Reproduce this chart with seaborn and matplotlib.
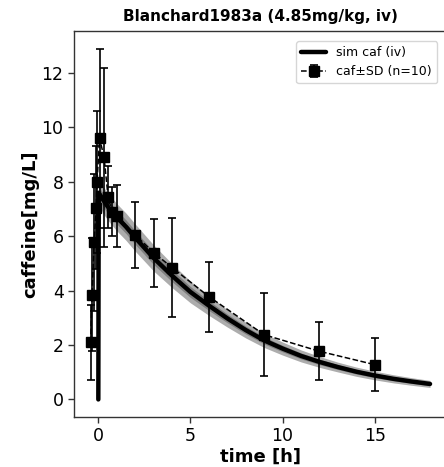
import numpy as np
import pandas as pd
import matplotlib
matplotlib.use("Agg")
import matplotlib.pyplot as plt
import seaborn as sns

# simulated caffeine plasma curve (mean and spread of the simulation)
sim_time = [0.0, 0.02, 0.25, 0.5, 1.0, 1.5, 2.0, 3.0, 4.0, 5.0, 6.0, 7.0, 8.0,
            9.0, 10.0, 11.0, 12.0, 13.0, 14.0, 15.0, 16.0, 17.0, 18.0]
sim_caf = [0.0, 7.6, 7.35, 7.1, 6.7, 6.35, 5.95, 5.2, 4.55, 3.95, 3.45, 2.98, 2.55,
           2.17, 1.87, 1.6, 1.38, 1.19, 1.02, 0.88, 0.76, 0.66, 0.57]
sim_sd = [0.0, 0.45, 0.5, 0.5, 0.5, 0.5, 0.5, 0.48, 0.44, 0.4, 0.36, 0.32, 0.29,
          0.26, 0.24, 0.22, 0.2, 0.18, 0.17, 0.16, 0.15, 0.14, 0.13]

# observed caffeine (mean ± SD, n=10)
obs_time = [-0.42, -0.34, -0.23, -0.12, -0.07, 0.07, 0.31, 0.53, 0.74, 1.0,
            2.0, 3.0, 4.0, 6.0, 9.0, 12.0, 15.0]
obs_caf = [2.1, 3.85, 5.77, 7.05, 8.0, 9.6, 8.9, 7.45, 6.9, 6.75,
           6.05, 5.4, 4.85, 3.78, 2.38, 1.77, 1.28]
obs_sd = [1.38, 2.08, 2.5, 2.25, 2.6, 3.3, 3.3, 1.15, 0.9, 1.15,
          1.22, 1.25, 1.83, 1.29, 1.53, 1.07, 0.97]

title = "Blanchard1983a (4.85mg/kg, iv)"
xlabel = "time [h]"
ylabel = "caffeine[mg/L]"

sns.set_style("ticks", {"text.color": "black", "axes.labelcolor": "black",
                        "xtick.color": "black", "ytick.color": "black",
                        "axes.edgecolor": "#333333"})
plt.rcParams["font.family"] = ["DejaVu Sans"]

fig = plt.figure(figsize=(4.44, 4.67), dpi=100)
ax = fig.add_axes([74 / 444, 1 - 417 / 467, 373 / 444, (417 - 31) / 467])

sim = pd.DataFrame({"time": sim_time, "caf": sim_caf, "sd": sim_sd})
ax.fill_between(sim["time"], sim["caf"] - sim["sd"], sim["caf"] + sim["sd"],
                color="#adadad", lw=0, zorder=1)
ax.fill_between(sim["time"], sim["caf"] - sim["sd"] * 0.5, sim["caf"] + sim["sd"] * 0.5,
                color="#808080", lw=0, zorder=1)
sns.lineplot(data=sim, x="time", y="caf", ax=ax, color="black", lw=3.2,
             label="sim caf (iv)", zorder=3, sort=False)

ax.errorbar(obs_time, obs_caf, yerr=obs_sd, fmt="s--", color="black",
            ms=6.5, lw=1.1, elinewidth=1.2, capsize=3.2, capthick=1.2,
            label="caf±SD (n=10)", zorder=4)

ax.set_xlim(-1.32, 18.92)
ax.set_ylim(-0.645, 13.545)
ax.set_xticks([0, 5, 10, 15])
ax.set_yticks([0, 2, 4, 6, 8, 10, 12])
ax.tick_params(labelsize=12.5, length=4, width=1, color="#333333",
               labelcolor="black")
for sp in ax.spines.values():
    sp.set_color("#333333")
    sp.set_linewidth(1.0)

ax.set_title(title, fontsize=11, fontweight="bold", pad=7, color="black")
ax.set_xlabel(xlabel, fontsize=13, fontweight="bold", labelpad=2, color="black")
ax.set_ylabel(ylabel, fontsize=13, fontweight="bold", labelpad=2, color="black")

leg = ax.legend(loc="upper right", fontsize=9, frameon=True, handlelength=2.0,
                borderaxespad=0.8)
for t in leg.get_texts():
    t.set_color("black")

fig.savefig("out.png", dpi=100)
